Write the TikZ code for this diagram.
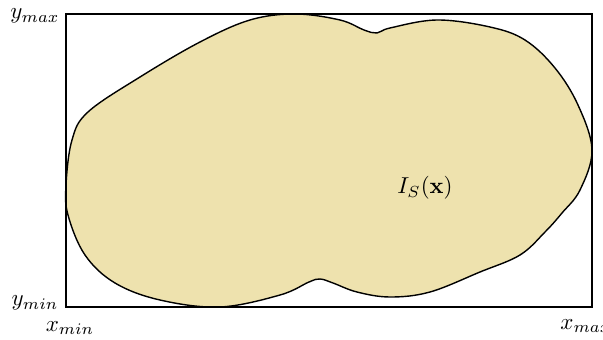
\documentclass[tikz,border=0pt]{standalone}
\usetikzlibrary{calc}
\definecolor{blobfill}{RGB}{238,226,174}
\tikzset{
  lab/.style={inner sep=0pt, scale=2.3},
  blob/.style={draw=black, line width=1.4pt, fill=blobfill},
  frame/.style={draw=black, line width=1.4pt}
}
\begin{document}
\begin{tikzpicture}[x=1pt,y=-1pt]
\useasboundingbox (0,0) rectangle (603,340);
\draw[blob] plot[smooth cycle, tension=0.6] coordinates {
(66,185) (72,140) (88,112) (140,77) (200,42) (250,20) (295,14)
(340,20) (364,30) (377,33) (390,28) (437,20) (490,27) (525,40)
(555,68) (578,105) (592,150) (580,190) (562,213) (545,232)
(520,255) (480,272) (430,292) (390,297) (357,292)
(333,283) (320,279) (309,282) (280,295) (220,307) (160,300) (115,283)
(85,255) (68,215)};
\draw[frame] (66,14) rectangle (592,307);
\node[lab] (ymax) at (35,16) {$y_{max}$};
\node[lab] (ymin) at (35,303) {$y_{min}$};
\node[lab] (xmin) at (70,328) {$x_{min}$};
\node[lab, anchor=west] (xmax) at (560,326) {$x_{max}$};
\node[lab] (is) at (425,188) {$I_S(\mathbf{x})$};
\end{tikzpicture}
\end{document}
